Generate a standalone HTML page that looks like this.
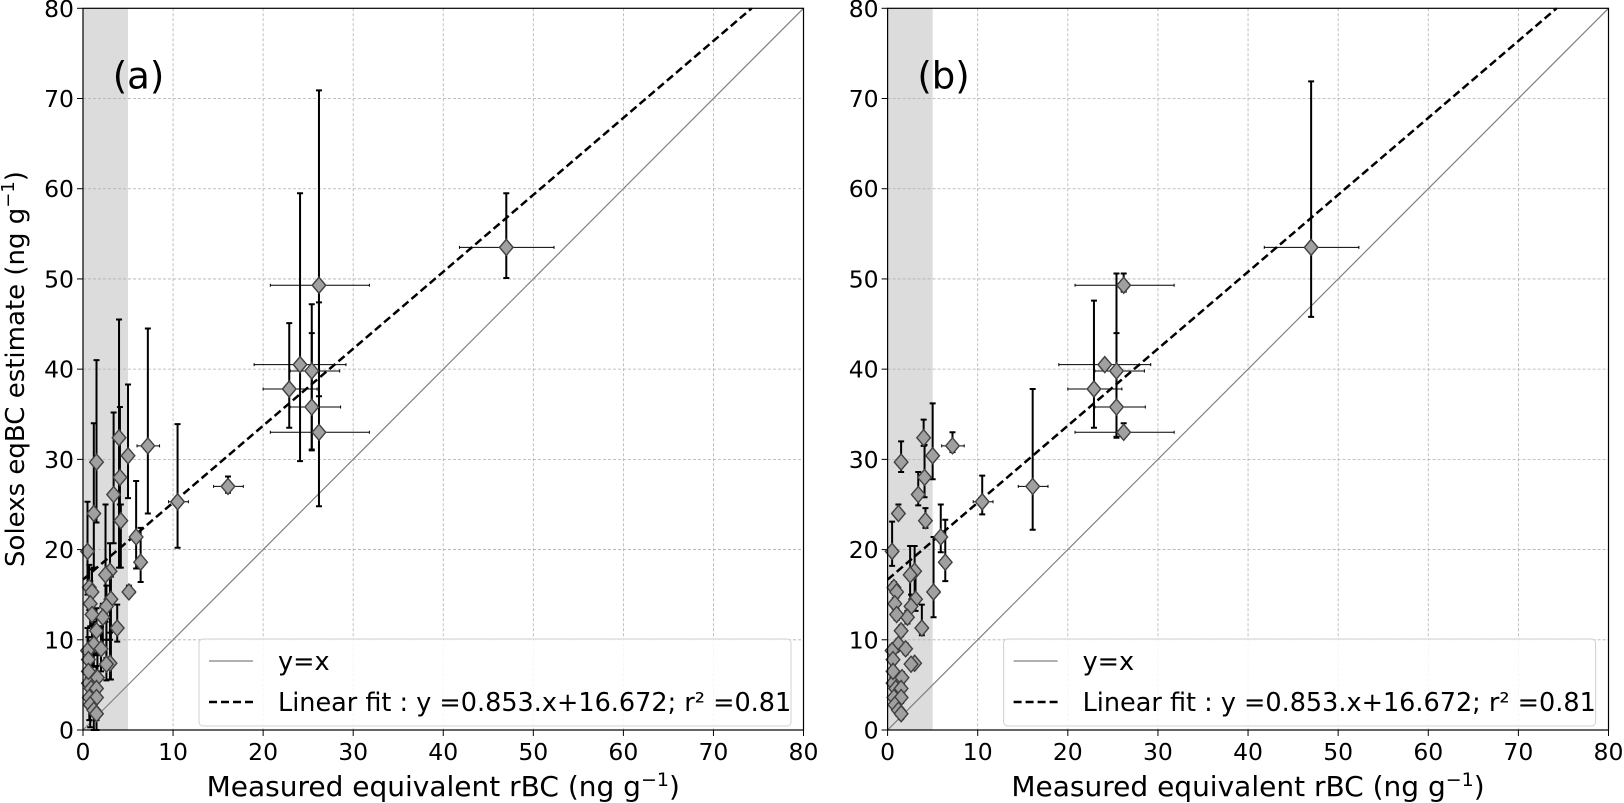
<!DOCTYPE html>
<html><head><meta charset="utf-8"><style>
body{margin:0;background:#fff;}
svg{display:block;font-family:"DejaVu Sans","Liberation Sans",sans-serif;}
</style></head><body>
<svg id="chart" width="1624" height="803" viewBox="0 0 1624 803" xmlns="http://www.w3.org/2000/svg"></svg>
<script>
const xs   =[47,26.2,24.1,22.9,25.4,25.4,26.2,16.1,10.5,7.2,6.4,5.9,5.1,5.0,4.0,4.1,4.2,3.4,3.8,3.1,3.0,2.5,2.6,2.2,3.0,2.6,1.5,1.2,0.5,0.7,1.0,0.8,1.0,1.5,1.2,0.5,0.6,1.0,1.6,0.6,0.9,1.5,0.7,1.5,0.8,1.2,1.5,0.6,2.0];
const ys   =[53.5,49.3,40.5,37.8,39.8,35.8,33.0,27.0,25.3,31.5,18.6,21.4,15.3,30.4,32.4,28.0,23.2,26.1,11.3,14.5,17.6,17.2,13.7,12.5,7.4,7.3,29.7,24.0,19.8,15.8,15.3,14,12.8,11,9.5,8.8,7.8,5.8,5.8,5.2,4.6,4.6,3.6,3.6,2.8,2.2,1.8,6.5,9.0];
const xLo  =[41.8,20.8,19,20,23,23,20.8,14.5,9.5,6,null,null,4.5];
const xHi  =[52.3,31.8,29.2,26,28.5,28.6,31.8,17.8,11.7,8.5,null,null,5.8];
const aLo  =[50.1,37,29.8,33.5,31.1,31,24.8,26.3,20.2,24,16.4,17.9,15,25.7,18,25,18,20.7,9.8,5.6,10,12,8,9,5.6,5.5,23,18,15];
const aHi  =[59.5,70.9,59.5,45.1,47.2,44,47.4,28.1,33.9,44.5,22.4,27.6,16,38.3,45.5,35.8,25,35.2,13.9,17,20.7,25,16,14,10.8,10,41,34,25.3];
const bLo  =[45.8,48.6,40,33.5,32.4,32.5,32.5,22.2,23.9,30.8,16.5,19.7,12.5,27.8,31.5,25.8,22.4,24.9,10.5,13.2,15,13.2,12.5,11.8,7,7,28.6,23.5,18.2];
const bHi  =[71.9,50.6,41,47.6,50.6,44,34,37.8,28.2,33,23.3,25,21.4,36.2,34.4,31.6,24.6,28.6,13.9,17.7,20.4,20.4,15,13.2,7.8,7.6,32,25,23.1];
const ticks=[0,10,20,30,40,50,60,70,80];
const fitSlope=0.853, fitIntercept=16.672;

const NS="http://www.w3.org/2000/svg";
const svg=document.getElementById('chart');
function mk(tag,attrs,parent,text){const e=document.createElementNS(NS,tag);for(const k in attrs)e.setAttribute(k,attrs[k]);if(text!==undefined)e.textContent=text;(parent||svg).appendChild(e);return e;}
const Y0=730,Y1=8.3;
function yS(v){return Y0-(v/80)*(Y0-Y1);}
function panel(x0,x1,lo,hi,label,key){
  const xS=v=>x0+(v/80)*(x1-x0);
  const g=mk('g',{});
  
  
  const band=mk('rect',{x:xS(0),y:Y1,width:xS(5)-xS(0),height:Y0-Y1,fill:'#dcdcdc'},g);
  
  
  ticks.forEach(t=>{
    if(t>0&&t<80){
      const gv=mk('line',{x1:xS(t),x2:xS(t),y1:Y1,y2:Y0,stroke:'#b0b0b0','stroke-width':0.8,'stroke-dasharray':'3,2'},g);
      
      const gh=mk('line',{x1:x0,x2:x1,y1:yS(t),y2:yS(t),stroke:'#b0b0b0','stroke-width':0.8,'stroke-dasharray':'3,2'},g);
      
    }
    mk('line',{x1:xS(t),x2:xS(t),y1:Y0,y2:Y0+6,stroke:'#000','stroke-width':1},g);
    mk('line',{x1:x0-6,x2:x0,y1:yS(t),y2:yS(t),stroke:'#000','stroke-width':1},g);
    const tx=mk('text',{x:xS(t),y:Y0+30,'text-anchor':'middle','font-size':23.5},g,String(t));
    
    const ty=mk('text',{x:x0-9,y:yS(t)+8.5,'text-anchor':'end','font-size':23.5},g,String(t));
    
  });
  const id=mk('line',{x1:xS(0),y1:yS(0),x2:xS(80),y2:yS(80),stroke:'#808080','stroke-width':1.2},g);
  
  const xe=(80-fitIntercept)/fitSlope;
  const fl=mk('line',{x1:xS(0),y1:yS(fitIntercept),x2:xS(xe),y2:yS(80),stroke:'#000','stroke-width':2.5,'stroke-dasharray':'8,4'},g);
  
  xs.forEach((x,i)=>{
    if(xLo[i]!=null&&xLo[i]!==undefined){
      const eh=mk('path',{d:`M${xS(xLo[i])},${yS(ys[i])}H${xS(xHi[i])}M${xS(xLo[i])},${yS(ys[i])-1.5}v3M${xS(xHi[i])},${yS(ys[i])-1.5}v3`,stroke:'#000','stroke-width':1,fill:'none'},g);
      
    }
    const l=lo[i]!==undefined?lo[i]:(key==='a'?Math.max(0,ys[i]-2.5):ys[i]-0.6);
    const h=hi[i]!==undefined?hi[i]:(key==='a'?ys[i]+2.5:ys[i]+0.6);
    const px=xS(x);
    const ev=mk('path',{d:`M${px},${yS(l)}V${yS(h)}M${px-3},${yS(l)}h6M${px-3},${yS(h)}h6`,stroke:'#000','stroke-width':2,fill:'none'},g);
    
  });
  xs.forEach((x,i)=>{
    const px=xS(x),py=yS(ys[i]),r=8;
    const m=mk('path',{d:`M${px},${py-r}L${px+r*0.85},${py}L${px},${py+r}L${px-r*0.85},${py}Z`,fill:'#a0a0a0',stroke:'#404040','stroke-width':1.4},g);
    
  });
  const fr=mk('rect',{x:x0,y:Y1,width:x1-x0,height:Y0-Y1,fill:'none',stroke:'#000','stroke-width':1.2},g);
  
  const pl=mk('text',{x:xS(3.3),y:yS(71.1),'font-size':37},g,label);
  
  const lg=mk('g',{},g);
  
  mk('rect',{x:x0+116,y:639,width:592,height:87,rx:4,fill:'#fff','fill-opacity':0.85,stroke:'#d0d0d0','stroke-width':1},lg);
  mk('line',{x1:x0+126,x2:x0+170,y1:661,y2:661,stroke:'#808080','stroke-width':1.2},lg);
  const le1=mk('text',{x:x0+195,y:670,'font-size':25.5},lg,'y=x');
  
  mk('line',{x1:x0+126,x2:x0+170,y1:702,y2:702,stroke:'#000','stroke-width':2.5,'stroke-dasharray':'8,4'},lg);
  const le2=mk('text',{x:x0+195,y:711,'font-size':25.5},lg,'Linear fit : y =0.853.x+16.672; r\u00b2 =0.81');
  
  const xl=mk('text',{x:(x0+x1)/2,y:796,'text-anchor':'middle','font-size':28},g);
  
  xl.innerHTML='Measured equivalent rBC (ng g<tspan dy="-10" font-size="19">\u22121</tspan><tspan dy="10">)</tspan>';
}
panel(83,803.5,aLo,aHi,'(a)','a');
panel(887.6,1608.5,bLo,bHi,'(b)','b');
const yt=mk('text',{x:0,y:0,'text-anchor':'middle','font-size':26,transform:'translate(24,369) rotate(-90)'});

yt.innerHTML='Solexs eqBC estimate  (ng g<tspan dy="-10" font-size="18">\u22121</tspan><tspan dy="10">)</tspan>';
</script>
</body></html>
